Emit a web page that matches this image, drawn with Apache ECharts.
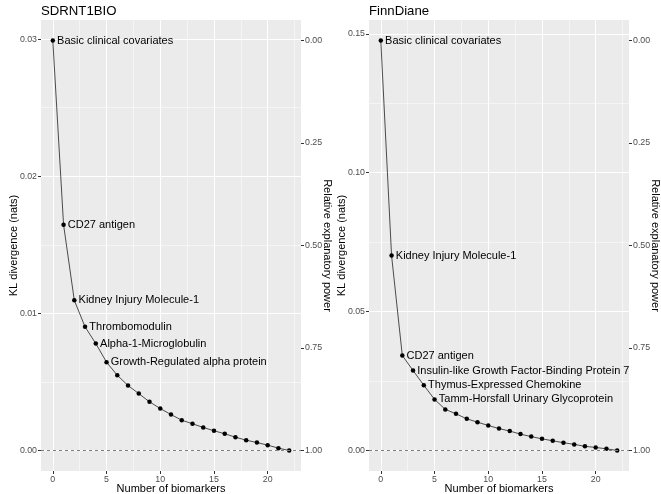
<!DOCTYPE html>
<html>
<head>
<meta charset="utf-8">
<script src="https://cdn.jsdelivr.net/npm/echarts@6/dist/echarts.min.js"></script>
<style>
  html, body { margin: 0; padding: 0; background: #fff; }
  #chart { width: 661px; height: 494px; }
</style>
</head>
<body>
<div id="chart"></div>
<script>
// number of biomarkers in the model (x values, shared by both panels)
const nBiomarkers = [0, 1, 2, 3, 4, 5, 6, 7, 8, 9, 10, 11, 12, 13, 14, 15, 16, 17, 18, 19, 20, 21, 22];

// SDRNT1BIO: KL divergence (nats) after each added biomarker
const sdrKL = [0.0299, 0.01647, 0.01095, 0.00902, 0.0078, 0.00644, 0.00549, 0.00474, 0.00415, 0.00355,
  0.00306, 0.00262, 0.00221, 0.00195, 0.00168, 0.00144, 0.00122, 0.00097, 0.00075, 0.00058, 0.00039, 0.00017, 0];
const sdrNames = ['Basic clinical covariates', 'CD27 antigen', 'Kidney Injury Molecule-1',
  'Thrombomodulin', 'Alpha-1-Microglobulin', 'Growth-Regulated alpha protein'];

// FinnDiane
const finnKL = [0.1476, 0.0702, 0.0342, 0.0288, 0.0235, 0.0184, 0.0148, 0.0132, 0.0114, 0.0102,
  0.0090, 0.0079, 0.0070, 0.0059, 0.0050, 0.0042, 0.0035, 0.0028, 0.0022, 0.0015, 0.0011, 0.0006, 0];
const finnNames = ['Basic clinical covariates', 'Kidney Injury Molecule-1', 'CD27 antigen',
  'Insulin-like Growth Factor-Binding Protein 7', 'Thymus-Expressed Chemokine', 'Tamm-Horsfall Urinary Glycoprotein'];

// tick values
const xTicks = [0, 5, 10, 15, 20];
const xMinor = [2.5, 7.5, 12.5, 17.5, 22.5];
const sdrTicks = [0, 0.01, 0.02, 0.03];
const sdrMinor = [0.005, 0.015, 0.025];
const finnTicks = [0, 0.05, 0.10, 0.15];
const finnMinor = [0.025, 0.075, 0.125];
const relTicks = [0, 0.25, 0.5, 0.75, 1];

const FONT = '"Liberation Sans", Arial, sans-serif';
const tickLabel = { fontSize: 8.8, color: '#4D4D4D', fontFamily: FONT };
const axisTitle = { fontSize: 11, color: '#000', fontFamily: FONT };
const tickLine = { color: '#333333', width: 1 };
const noLine = { show: false, onZero: false };

const option = {
  animation: false,
  backgroundColor: '#fff',
  title: [],
  grid: [],
  xAxis: [],
  yAxis: [],
  series: []
};

// one ggplot-like panel: grey background, white grid, secondary "relative" axis on the right
function addPanel(idx, left, title, kl, names, klTicks, klMinor) {
  const xMin = Math.min(...nBiomarkers);
  const xMax = Math.max(...nBiomarkers);
  const xPad = 0.05 * (xMax - xMin);
  const yMax = Math.max(...kl);
  const yPad = 0.05 * yMax;

  option.title.push({
    text: title, left: left, top: 5, padding: 0,
    textStyle: { fontSize: 13.2, fontWeight: 'normal', color: '#000', fontFamily: FONT }
  });

  option.grid.push({
    left: left, top: 20, width: 260, height: 451,
    containLabel: false, outerBoundsMode: 'none',
    show: true, backgroundColor: '#EBEBEB', borderWidth: 0
  });

  // major x axis
  option.xAxis.push({
    gridIndex: idx, type: 'value', min: xMin - xPad, max: xMax + xPad,
    name: 'Number of biomarkers', nameLocation: 'middle', nameGap: 12, nameMoveOverlap: false,
    nameTextStyle: axisTitle,
    axisLine: noLine,
    axisTick: { show: true, length: 3, customValues: xTicks, lineStyle: tickLine },
    axisLabel: { customValues: xTicks, margin: 4, ...tickLabel },
    splitLine: { show: true, customValues: xTicks, lineStyle: { color: '#fff', width: 1 } }
  });
  // minor x grid lines only
  option.xAxis.push({
    gridIndex: idx, type: 'value', min: xMin - xPad, max: xMax + xPad,
    axisLine: noLine,
    axisTick: { show: false, customValues: xMinor },
    axisLabel: { show: false },
    splitLine: { show: true, customValues: xMinor, lineStyle: { color: '#fff', width: 0.5 } }
  });

  // KL divergence axis
  option.yAxis.push({
    gridIndex: idx, type: 'value', position: 'left', min: -yPad, max: yMax + yPad,
    name: 'KL divergence (nats)', nameLocation: 'middle', nameGap: 22, nameMoveOverlap: false,
    nameTextStyle: axisTitle,
    axisLine: noLine,
    axisTick: { show: true, length: 3, customValues: klTicks, lineStyle: tickLine },
    axisLabel: { customValues: klTicks, margin: 4, formatter: v => v.toFixed(2), ...tickLabel },
    splitLine: { show: true, customValues: klTicks, lineStyle: { color: '#fff', width: 1 } }
  });
  // relative explanatory power = 1 - KL / KL(basic model)
  option.yAxis.push({
    gridIndex: idx, type: 'value', position: 'right', min: -0.05, max: 1.05, inverse: true,
    name: 'Relative explanatory power', nameLocation: 'middle', nameGap: 21, nameRotate: -90,
    nameMoveOverlap: false, nameTextStyle: axisTitle,
    axisLine: noLine,
    axisTick: { show: true, length: 3, customValues: relTicks, lineStyle: tickLine },
    axisLabel: { customValues: relTicks, margin: 4, formatter: v => v.toFixed(2), ...tickLabel },
    splitLine: { show: false }
  });
  // minor y grid lines only
  option.yAxis.push({
    gridIndex: idx, type: 'value', position: 'left', min: -yPad, max: yMax + yPad,
    axisLine: noLine,
    axisTick: { show: false, customValues: klMinor },
    axisLabel: { show: false },
    splitLine: { show: true, customValues: klMinor, lineStyle: { color: '#fff', width: 0.5 } }
  });

  option.series.push({
    type: 'line',
    xAxisIndex: idx * 2,
    yAxisIndex: idx * 3,
    data: nBiomarkers.map((x, i) => [x, kl[i]]),
    symbol: 'circle',
    symbolSize: 4.5,
    itemStyle: { color: '#000' },
    lineStyle: { color: '#222', width: 0.8 },
    label: {
      show: true, position: 'right', distance: 2,
      formatter: p => names[p.dataIndex] || '',
      fontSize: 11, color: '#000', fontFamily: FONT
    },
    emphasis: { disabled: true },
    z: 3,
    markLine: {
      silent: true,
      symbol: ['none', 'none'],
      label: { show: false },
      lineStyle: { type: [3, 3], color: '#808080', width: 1 },
      data: [{ yAxis: 0 }]
    }
  });
}

addPanel(0, 41, 'SDRNT1BIO', sdrKL, sdrNames, sdrTicks, sdrMinor);
addPanel(1, 369, 'FinnDiane', finnKL, finnNames, finnTicks, finnMinor);

const chart = echarts.init(document.getElementById('chart'), null, { renderer: 'canvas' });
chart.setOption(option);
</script>
</body>
</html>
